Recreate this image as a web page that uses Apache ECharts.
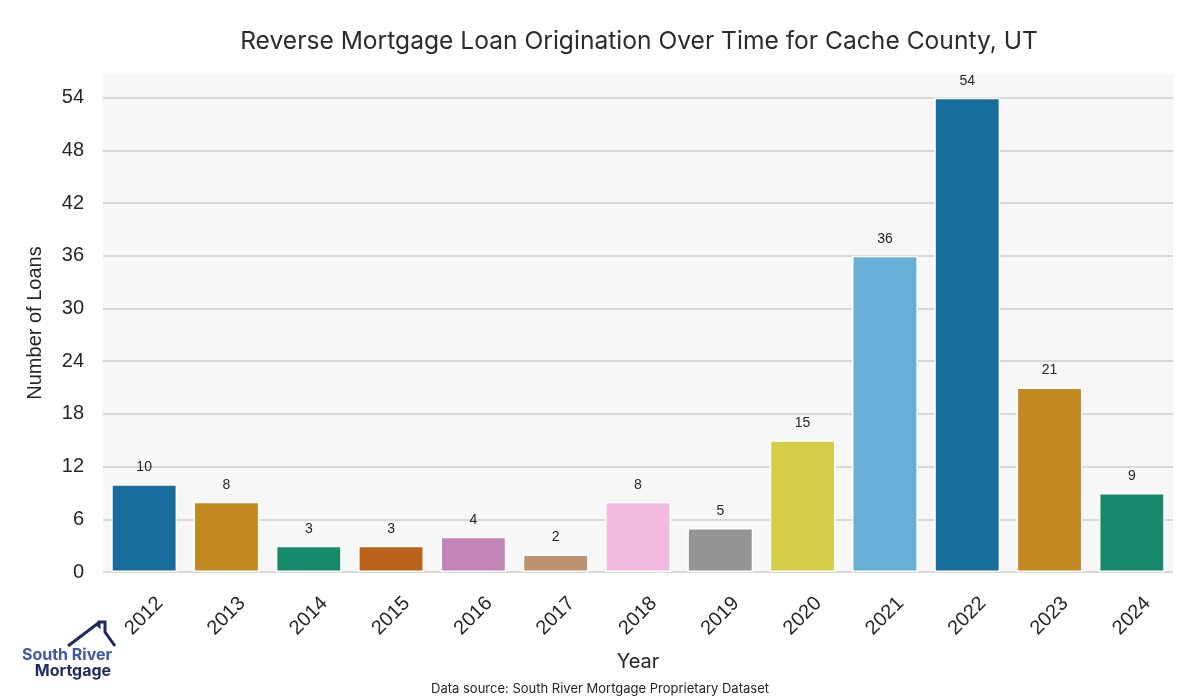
<!DOCTYPE html>
<html>
<head>
<meta charset="utf-8">
<script src="https://cdn.jsdelivr.net/npm/echarts@6/dist/echarts.min.js"></script>
<style>html,body{margin:0;padding:0;background:#fff}#c{width:1200px;height:700px}</style>
</head>
<body>
<div id="c"></div>
<script>
const years = ['2012','2013','2014','2015','2016','2017','2018','2019','2020','2021','2022','2023','2024'];
const loans = [10, 8, 3, 3, 4, 2, 8, 5, 15, 36, 54, 21, 9];
const barColors = ['#176d9c','#c38820','#168a6a','#ba611b','#c283b6','#bd926e','#f2b9e0','#949494','#d5cd4a','#68afd7','#176d9c','#c38820','#168a6a'];
const yTicks = [0, 6, 12, 18, 24, 30, 36, 42, 48, 54];
const titleText = 'Reverse Mortgage Loan Origination Over Time for Cache County, UT';

const chart = echarts.init(document.getElementById('c'), null, {renderer: 'canvas'});
const gridLineColors = yTicks.map(() => '#cccccc').concat(['rgba(0,0,0,0)']);
const option = {
  animation: false,
  title: {
    text: titleText,
    left: 634, top: 24, textAlign: 'center',
    textStyle: {fontFamily: 'Inter', fontSize: 24.6, fontWeight: 'normal', color: '#2b2b2b'}
  },
  grid: {left: 103, right: 27, top: 74, bottom: 128, show: true, backgroundColor: '#f7f7f7', borderWidth: 0},
  xAxis: {
    type: 'category', data: years,
    axisLine: {show: false}, axisTick: {show: false},
    axisLabel: {rotate: 45, align: 'center', verticalAlign: 'middle', margin: 44, fontFamily: 'Liberation Sans', fontSize: 20, color: '#262626'}
  },
  yAxis: {
    type: 'value', min: 0, max: 56.7, interval: 6,
    axisLine: {show: false}, axisTick: {show: false},
    axisLabel: {margin: 19, fontFamily: 'Liberation Sans', fontSize: 20, color: '#262626',
      formatter: v => yTicks.indexOf(v) >= 0 ? String(v) : ''},
    splitLine: {show: true, lineStyle: {color: gridLineColors, width: 1.5}}
  },
  series: [{
    type: 'bar', barWidth: '80%',
    data: loans.map((v, i) => ({value: v, itemStyle: {color: barColors[i]}})),
    itemStyle: {borderColor: '#ffffff', borderWidth: 1.5},
    label: {show: true, position: 'top', distance: 10, fontFamily: 'Liberation Sans', fontSize: 14, color: '#262626'}
  }],
  graphic: [
    {type: 'text', x: 35, y: 323, rotation: Math.PI / 2,
      style: {text: 'Number of Loans', font: '20px "Liberation Sans"', fill: '#262626', textAlign: 'center', textVerticalAlign: 'middle'}},
    {type: 'text', x: 638, y: 662,
      style: {text: 'Year', font: '20px Inter', fill: '#262626', textAlign: 'center', textVerticalAlign: 'middle'}},
    {type: 'text', x: 600, y: 689,
      style: {text: 'Data source: South River Mortgage Proprietary Dataset', font: '13px Inter', fill: '#262626', textAlign: 'center', textVerticalAlign: 'middle'}},
    {type: 'polyline', shape: {points: [[68,646],[97,624],[99,626],[99,622],[105,622],[105,632],[115,646]]},
      style: {stroke: '#1f2a5c', lineWidth: 3, fill: null, lineJoin: 'miter'}},
    {type: 'text', x: 67, y: 655,
      style: {text: 'South River', font: 'bold 16px Inter', fill: '#3e57a6', textAlign: 'center', textVerticalAlign: 'middle'}},
    {type: 'text', x: 73, y: 671,
      style: {text: 'Mortgage', font: 'bold 16px Inter', fill: '#1f2a5c', textAlign: 'center', textVerticalAlign: 'middle'}}
  ]
};
chart.setOption(option);
</script>
</body>
</html>
